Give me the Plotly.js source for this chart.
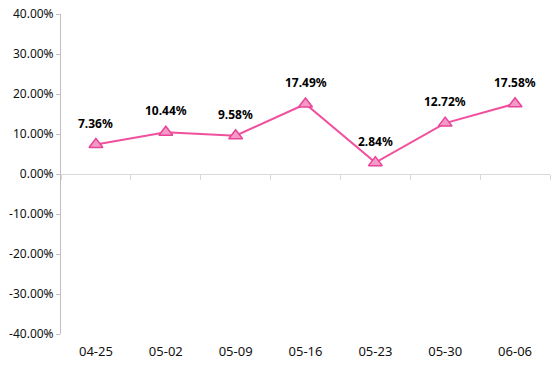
<!DOCTYPE html>
<html>
<head>
<meta charset="utf-8">
<script src="https://cdn.plot.ly/plotly-3.0.1.min.js"></script>
<style>html,body{margin:0;padding:0;background:#fff;}#chart{width:554px;height:372px;}</style>
</head>
<body>
<div id="chart"></div>
<script>
var categories = ['04-25', '05-02', '05-09', '05-16', '05-23', '05-30', '06-06'];
var values = [7.36, 10.44, 9.58, 17.49, 2.84, 12.72, 17.58];
var yTickVals = [-40, -30, -20, -10, 0, 10, 20, 30, 40];
var yTickText = ['-40.00%', '-30.00%', '-20.00%', '-10.00%', '0.00%', '10.00%', '20.00%', '30.00%', '40.00%'];

var fontFam = '"Noto Sans", "DejaVu Sans", sans-serif';

var traces = [
  {
    x: categories, y: values, type: 'scatter', mode: 'lines+markers',
    line: {color: '#F0509E', width: 2},
    marker: {symbol: 'triangle-up', size: 12, color: '#F49AC4', line: {color: '#E8449A', width: 1.5}},
    hoverinfo: 'x+y', cliponaxis: false
  },
  {
    x: categories, y: values, xaxis: 'x2', yaxis: 'y', type: 'scatter', mode: 'markers',
    marker: {opacity: 0}, hoverinfo: 'skip', showlegend: false
  }
];

var annotations = categories.map(function(c, i) {
  return {
    x: c, y: values[i], xref: 'x', yref: 'y',
    text: values[i].toFixed(2) + '%', showarrow: false,
    yanchor: 'bottom', yshift: 11,
    font: {family: fontFam, size: 12, color: '#000', weight: 'bold'}
  };
});

var layout = {
  width: 554, height: 372,
  margin: {l: 61, r: 4, t: 14, b: 38},
  paper_bgcolor: '#fff', plot_bgcolor: '#fff',
  showlegend: false,
  xaxis: {
    type: 'category', categoryarray: categories, range: [-0.5, 6.5],
    showline: false, showgrid: false, zeroline: false, ticks: '',
    ticklabelstandoff: 8,
    tickfont: {family: fontFam, size: 13, color: '#111'}
  },
  xaxis2: {
    type: 'category', categoryarray: categories, range: [-0.5, 6.5],
    overlaying: 'x', anchor: 'free', position: 0.5,
    showline: true, linecolor: '#d9d9d9', linewidth: 1,
    ticks: 'outside', tickson: 'boundaries', ticklen: 5, tickcolor: '#d9d9d9', tickwidth: 1,
    showticklabels: false, showgrid: false, zeroline: false
  },
  yaxis: {
    range: [-40, 40], tickvals: yTickVals, ticktext: yTickText,
    showline: true, linecolor: '#bfbfbf', linewidth: 1,
    ticks: 'outside', ticklen: 4, tickcolor: '#bfbfbf',
    showgrid: false, zeroline: false,
    tickfont: {family: fontFam, size: 12, color: '#111'}
  },
  annotations: annotations
};

Plotly.newPlot('chart', traces, layout, {displayModeBar: false, staticPlot: true});
</script>
</body>
</html>
